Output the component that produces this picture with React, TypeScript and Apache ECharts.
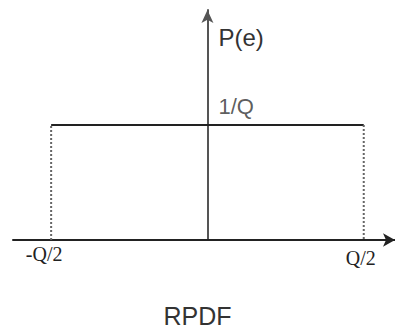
import React, { useEffect, useRef } from "react";
import * as echarts from "echarts";

const xTickValues = [-0.5, 0.5];
const xTickLabels = ["-Q/2", "Q/2"];
const yTickValues = [1];
const yTickLabels = ["1/Q"];
const dottedLeft = [[-0.5, 0], [-0.5, 1]];
const topLine = [[-0.5, 1], [0.5, 1]];
const dottedRight = [[0.5, 1], [0.5, 0]];
const titleText = "RPDF";
const yName = "P(e)";

export default function App() {
  const ref = useRef<HTMLDivElement>(null);
  useEffect(() => {
    if (!ref.current) return;
    const chart = echarts.init(ref.current, undefined, { renderer: "svg" });
    chart.setOption({
      animation: false,
      backgroundColor: "#ffffff",
      title: {
        text: titleText,
        left: "center",
        top: 303,
        padding: 0,
        textStyle: {
          fontFamily: "Liberation Sans",
          fontSize: 25,
          lineHeight: 25,
          fontWeight: "normal",
          color: "#333333",
        },
      },
      grid: { left: 13, right: 0, top: 10, bottom: 89, containLabel: false },
      xAxis: {
        type: "value",
        min: -0.622,
        max: 0.6,
        splitLine: { show: false },
        axisTick: { show: false },
        axisLine: {
          show: true,
          onZero: true,
          symbol: ["none", "arrow"],
          symbolSize: [10, 12],
          lineStyle: { color: "#222222", width: 2 },
        },
        axisLabel: {
          show: true,
          customValues: xTickValues,
          margin: 4,
          formatter: (v: number) => {
            const i = xTickValues.indexOf(v);
            if (i < 0) return "";
            return i === 0 ? `{a|${xTickLabels[i]}}` : `{b|${xTickLabels[i]}}`;
          },
          rich: {
            a: {
              fontFamily: "Liberation Serif",
              fontSize: 20,
              color: "#222222",
              padding: [0, 14, 0, 0],
            },
            b: {
              fontFamily: "Liberation Serif",
              fontSize: 20,
              color: "#222222",
              padding: [4, 6, 0, 0],
            },
          },
        },
      },
      yAxis: {
        type: "value",
        min: 0,
        max: 2,
        name: yName,
        nameLocation: "end",
        nameGap: -27,
        nameTextStyle: {
          fontFamily: "Liberation Sans",
          fontSize: 24,
          color: "#333333",
          align: "left",
          verticalAlign: "middle",
          padding: [0, 0, 0, 11],
        },
        splitLine: { show: false },
        axisTick: { show: false },
        axisLabel: { show: false },
        axisLine: {
          show: true,
          onZero: true,
          symbol: ["none", "arrow"],
          symbolSize: [9, 13],
          lineStyle: { color: "#555555", width: 2 },
        },
      },
      series: [
        {
          type: "line",
          data: dottedLeft,
          symbol: "none",
          lineStyle: { color: "#666666", width: 2, type: [2, 2] },
        },
        {
          type: "line",
          data: topLine,
          symbol: "none",
          lineStyle: { color: "#222222", width: 2 },
        },
        {
          type: "line",
          data: dottedRight,
          symbol: "none",
          lineStyle: { color: "#666666", width: 2, type: [2, 2] },
        },
        {
          type: "scatter",
          data: yTickValues.map((v) => [0, v]),
          symbolSize: 0,
          silent: true,
          label: {
            show: true,
            position: [11, -30],
            align: "left",
            verticalAlign: "top",
            formatter: (p: any) => yTickLabels[p.dataIndex],
            fontFamily: "Liberation Sans",
            fontSize: 22,
            color: "#333333",
          },
        },
      ],
    });
    return () => chart.dispose();
  }, []);
  return (
    <div
      ref={ref}
      style={{ position: "fixed", left: 0, top: 0, width: 395, height: 329 }}
    />
  );
}
